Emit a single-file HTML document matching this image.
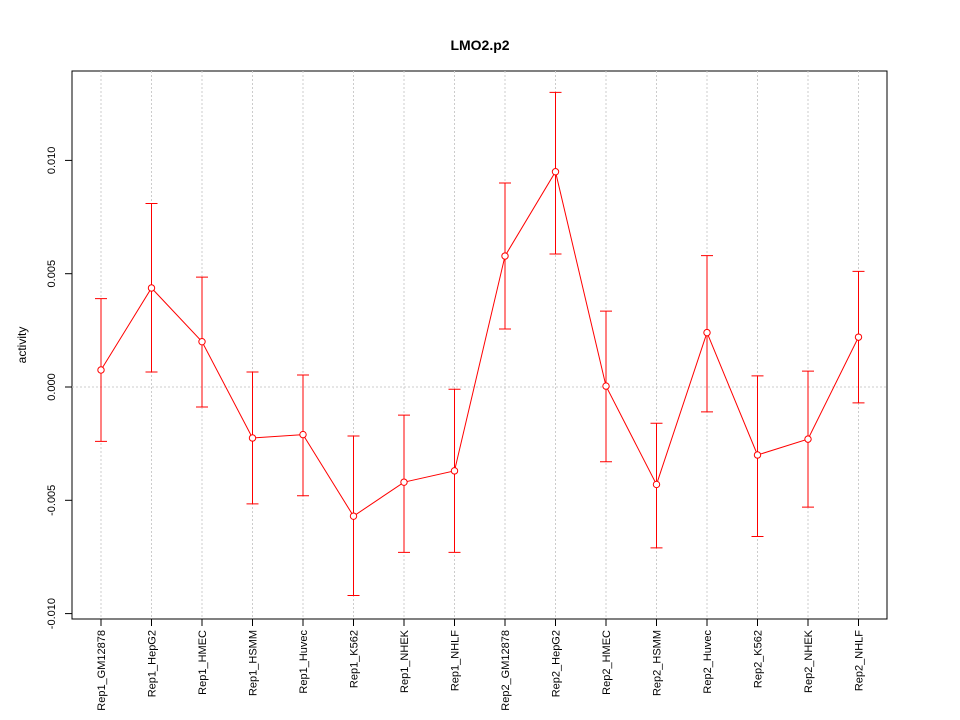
<!DOCTYPE html>
<html><head><meta charset="utf-8"><style>
body{margin:0;background:#fff}
svg{display:block;font-family:"Liberation Sans",sans-serif}
</style></head><body>
<svg id="c" width="960" height="720">
<text x="480" y="50" text-anchor="middle" font-size="14" font-weight="bold">LMO2.p2</text>
<rect x="72" y="71" width="815" height="548" fill="none" stroke="#000"/>
<text transform="translate(26,345) rotate(-90)" text-anchor="middle" font-size="12">activity</text>
</svg>
<script>
const categories=["Rep1_GM12878","Rep1_HepG2","Rep1_HMEC","Rep1_HSMM","Rep1_Huvec","Rep1_K562","Rep1_NHEK","Rep1_NHLF","Rep2_GM12878","Rep2_HepG2","Rep2_HMEC","Rep2_HSMM","Rep2_Huvec","Rep2_K562","Rep2_NHEK","Rep2_NHLF"];
const values=[0.00075,0.00437,0.0020,-0.00225,-0.0021,-0.0057,-0.0042,-0.0037,0.00578,0.0095,0.00004,-0.0043,0.0024,-0.0030,-0.0023,0.0022];
const upper=[0.0039,0.0081,0.00485,0.00066,0.00053,-0.00216,-0.00124,-0.0001,0.0090,0.0130,0.00335,-0.0016,0.0058,0.00049,0.0007,0.0051];
const lower=[-0.0024,0.00066,-0.00088,-0.00516,-0.0048,-0.0092,-0.0073,-0.0073,0.00256,0.00587,-0.0033,-0.0071,-0.0011,-0.0066,-0.0053,-0.0007];
const yTicks=[-0.010,-0.005,0.000,0.005,0.010];
const yTickLabels=["-0.010","-0.005","0.000","0.005","0.010"];
const svg=document.getElementById('c');const NS="http://www.w3.org/2000/svg";
const xs=i=>101+i*50.5;
const ys=v=>387-v/0.005*113.3;
function mk(t,a,p){const e=document.createElementNS(NS,t);for(const k in a)e.setAttribute(k,a[k]);(p||svg).appendChild(e);return e;}
categories.forEach((c,i)=>{
const g=mk('line',{x1:xs(i),x2:xs(i),y1:71,y2:619,stroke:"#ccc","stroke-dasharray":"2,2"});


const t=mk('line',{x1:xs(i),x2:xs(i),y1:619,y2:626,stroke:"#000"});


const l=mk('text',{transform:`translate(${xs(i)+4},630) rotate(-90)`,"text-anchor":"end","font-size":"11"});
l.textContent=c;


});
const h=mk('line',{x1:72,x2:887,y1:ys(0),y2:ys(0),stroke:"#ccc","stroke-dasharray":"2,2"});


yTicks.forEach((v,i)=>{
const t=mk('line',{x1:65,x2:72,y1:ys(v),y2:ys(v),stroke:"#000"});


const l=mk('text',{transform:`translate(55,${ys(v)}) rotate(-90)`,"text-anchor":"middle","font-size":"11"});
l.textContent=yTickLabels[i];


});
values.forEach((v,i)=>{
const x=xs(i);
const e=mk('path',{d:`M${x},${ys(upper[i])}V${ys(lower[i])}M${x-6},${ys(upper[i])}H${x+6}M${x-6},${ys(lower[i])}H${x+6}`,stroke:"red",fill:"none"});


});
const ln=mk('polyline',{points:values.map((v,i)=>xs(i)+","+ys(v)).join(" "),fill:"none",stroke:"red"});


values.forEach((v,i)=>{
const p=mk('circle',{cx:xs(i),cy:ys(v),r:3.2,fill:"#fff",stroke:"red"});


});
</script>
</body></html>
